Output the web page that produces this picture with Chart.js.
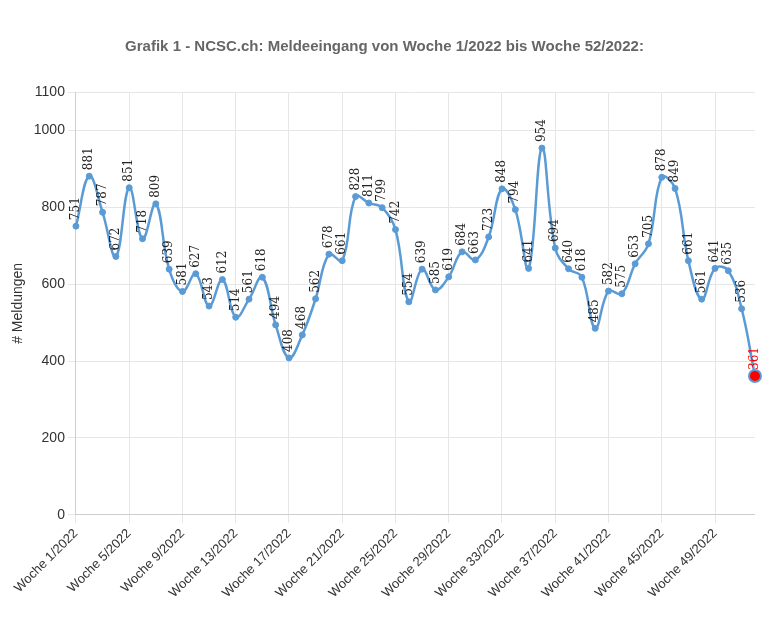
<!DOCTYPE html>
<html><head><meta charset="utf-8">
<script src="https://cdn.jsdelivr.net/npm/chart.js@4/dist/chart.umd.min.js"></script>
<style>body{margin:0;background:#fff}#wrap{width:769px;height:624px}</style>
</head><body><div id="wrap"><canvas id="c"></canvas></div>
<script>
const weeks = Array.from({length: 52}, (_, i) => 'Woche ' + (i + 1) + '/2022');
const meldungen = [751, 881, 787, 672, 851, 718, 809, 639, 581, 627, 543, 612, 514, 561, 618, 494, 408, 468, 562, 678, 661, 828, 811, 799, 742, 554, 639, 585, 619, 684, 663, 723, 848, 794, 641, 954, 694, 640, 618, 485, 582, 575, 653, 705, 878, 849, 661, 561, 641, 635, 536, 361];
const yTicks = [0, 200, 400, 600, 800, 1000, 1100];

const last = meldungen.length - 1;

const valueLabels = {
  id: 'valueLabels',
  afterDatasetsDraw(chart) {
    const ctx = chart.ctx;
    const meta = chart.getDatasetMeta(0);
    ctx.save();
    ctx.font = '12px "DejaVu Serif", serif';
    ctx.textAlign = 'left';
    ctx.textBaseline = 'middle';
    meta.data.forEach((pt, i) => {
      ctx.save();
      ctx.translate(pt.x, pt.y - 6);
      ctx.rotate(-Math.PI / 2);
      ctx.fillStyle = i === last ? '#ff0000' : '#222';
      ctx.fillText(String(meldungen[i]), 0, 0);
      ctx.restore();
    });
    ctx.restore();
  }
};

new Chart(document.getElementById('c'), {
  type: 'line',
  data: {
    labels: weeks,
    datasets: [{
      data: meldungen,
      borderColor: '#5b9bd5',
      backgroundColor: meldungen.map((v, i) => i === last ? '#ff0000' : '#5b9bd5'),
      pointBorderColor: '#5b9bd5',
      pointRadius: meldungen.map((v, i) => i === last ? 6 : 3),
      pointBorderWidth: meldungen.map((v, i) => i === last ? 2 : 1),
      borderWidth: 2.5,
      tension: 0.4
    }]
  },
  options: {
    responsive: true,
    maintainAspectRatio: false,
    animation: false,
    layout: {padding: {left: 6, right: 6, top: 22, bottom: 20}},
    plugins: {
      legend: {display: false},
      tooltip: {enabled: false},
      title: {
        display: true,
        text: 'Grafik 1 - NCSC.ch: Meldeeingang von Woche 1/2022 bis Woche 52/2022:',
        color: '#666',
        font: {family: 'Arial, "Liberation Sans"', size: 15, weight: 'bold'},
        padding: {top: 16, bottom: 36}
      }
    },
    scales: {
      x: {
        grid: {color: ctx => ctx.index % 4 === 0 ? '#e6e6e6' : 'rgba(0,0,0,0)'},
        ticks: {
          autoSkip: false, maxRotation: 45, minRotation: 45,
          color: '#333', font: {family: 'Arial, "Liberation Sans"', size: 13},
          callback: (v, i) => i % 4 === 0 ? weeks[i] : ''
        }
      },
      y: {
        min: 0, max: 1100,
        grid: {color: '#e6e6e6'},
        afterBuildTicks: s => { s.ticks = yTicks.map(v => ({value: v})); },
        ticks: {color: '#333', font: {family: 'Arial, "Liberation Sans"', size: 14}, callback: v => String(v)},
        title: {display: true, text: '# Meldungen', color: '#333', font: {family: 'Arial, "Liberation Sans"', size: 14}}
      }
    }
  },
  plugins: [valueLabels]
});
</script></body></html>
